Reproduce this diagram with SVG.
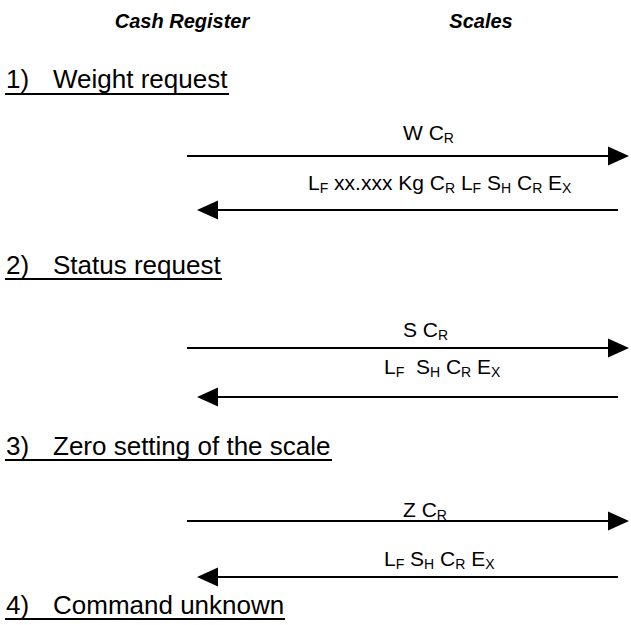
<svg xmlns="http://www.w3.org/2000/svg" width="631" height="625" viewBox="0 0 631 625">
<style>
.hdr{font-family:"Liberation Sans",Arial,sans-serif;font-size:20px;font-weight:bold;font-style:italic;fill:#000;text-anchor:middle}
.sec{font-family:"Liberation Sans",Arial,sans-serif;font-size:26px;fill:#000}
.lbl{font-family:"Liberation Sans",Arial,sans-serif;font-size:21px;fill:#000}
.sub{font-size:14px}
.ul{stroke:#000;stroke-width:2}
.ln{stroke:#000;stroke-width:1.8;fill:none}
.ah{fill:#000}
</style>
<rect width="631" height="625" fill="#fff"/>
<g id="header-cash-register"><text class="hdr" x="182" y="28">Cash Register</text></g>
<g id="header-scales"><text class="hdr" x="481" y="28">Scales</text></g>

<g id="section-1">
<text class="sec" y="88"><tspan x="6">1)</tspan><tspan x="53">Weight request</tspan></text>
<line class="ul" x1="5" y1="94" x2="229" y2="94"/>
</g>
<g id="section-2">
<text class="sec" y="274"><tspan x="6">2)</tspan><tspan x="53">Status request</tspan></text>
<line class="ul" x1="5" y1="279" x2="222" y2="279"/>
</g>
<g id="section-3">
<text class="sec" y="455"><tspan x="6">3)</tspan><tspan x="53">Zero setting of the scale</tspan></text>
<line class="ul" x1="5" y1="460" x2="332" y2="460"/>
</g>
<g id="section-4">
<text class="sec" y="614"><tspan x="6">4)</tspan><tspan x="53">Command unknown</tspan></text>
<line class="ul" x1="5" y1="619" x2="285" y2="619"/>
</g>

<g id="connectors">
<line class="ln" x1="187" y1="156" x2="610" y2="156"/>
<polygon class="ah" points="629,156 608,146.5 608,165.5"/>
<line class="ln" x1="215" y1="210" x2="618" y2="210"/>
<polygon class="ah" points="197,210 218,200.5 218,219.5"/>

<line class="ln" x1="187" y1="348" x2="610" y2="348"/>
<polygon class="ah" points="629,348 608,338.5 608,357.5"/>
<line class="ln" x1="215" y1="397" x2="618" y2="397"/>
<polygon class="ah" points="197,397 218,387.5 218,406.5"/>

<line class="ln" x1="187" y1="521" x2="610" y2="521"/>
<polygon class="ah" points="629,521 608,511.5 608,530.5"/>
<line class="ln" x1="215" y1="577" x2="618" y2="577"/>
<polygon class="ah" points="197,577 218,567.5 218,586.5"/>
</g>

<g id="labels">
<text class="lbl" x="403" y="140">W C<tspan class="sub" dy="3">R</tspan></text>
<text class="lbl" x="308" y="190">L<tspan class="sub" dy="3">F</tspan><tspan dy="-3"> xx.xxx Kg C</tspan><tspan class="sub" dy="3">R</tspan><tspan dy="-3"> L</tspan><tspan class="sub" dy="3">F</tspan><tspan dy="-3"> S</tspan><tspan class="sub" dy="3">H</tspan><tspan dy="-3"> C</tspan><tspan class="sub" dy="3">R</tspan><tspan dy="-3"> E</tspan><tspan class="sub" dy="3">X</tspan></text>

<text class="lbl" x="403" y="337">S C<tspan class="sub" dy="3">R</tspan></text>
<text class="lbl" x="384" y="374" xml:space="preserve">L<tspan class="sub" dy="3">F</tspan><tspan dy="-3">  S</tspan><tspan class="sub" dy="3">H</tspan><tspan dy="-3"> C</tspan><tspan class="sub" dy="3">R</tspan><tspan dy="-3"> E</tspan><tspan class="sub" dy="3">X</tspan></text>

<text class="lbl" x="403" y="517">Z C<tspan class="sub" dy="3">R</tspan></text>
<text class="lbl" x="384" y="566">L<tspan class="sub" dy="3">F</tspan><tspan dy="-3"> S</tspan><tspan class="sub" dy="3">H</tspan><tspan dy="-3"> C</tspan><tspan class="sub" dy="3">R</tspan><tspan dy="-3"> E</tspan><tspan class="sub" dy="3">X</tspan></text>
</g>
</svg>
